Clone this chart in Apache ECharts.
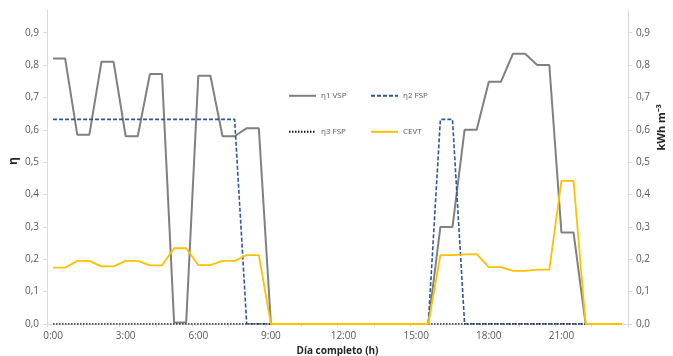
<!DOCTYPE html>
<html>
<head>
<meta charset="utf-8">
<script src="https://cdn.jsdelivr.net/npm/echarts@6/dist/echarts.min.js"></script>
<style>
html,body{margin:0;padding:0;background:#fff;}
#c{width:673px;height:356px;}
</style>
</head>
<body>
<div id="c"></div>
<script>
// Half-hour categories 0:00 .. 23:30
const categories = ["0:00","0:30","1:00","1:30","2:00","2:30","3:00","3:30","4:00","4:30","5:00","5:30",
"6:00","6:30","7:00","7:30","8:00","8:30","9:00","9:30","10:00","10:30","11:00","11:30",
"12:00","12:30","13:00","13:30","14:00","14:30","15:00","15:30","16:00","16:30","17:00","17:30",
"18:00","18:30","19:00","19:30","20:00","20:30","21:00","21:30","22:00","22:30","23:00","23:30"];

const eta1VSP = [0.82,0.82,0.585,0.585,0.81,0.81,0.58,0.58,0.772,0.772,0.005,0.005,
0.767,0.767,0.58,0.58,0.605,0.605,0,0,0,0,0,0,
0,0,0,0,0,0,0,0,0.3,0.3,0.6,0.6,
0.748,0.748,0.835,0.835,0.8,0.8,0.283,0.283,0,0,0,0];

const eta2FSP = [0.632,0.632,0.632,0.632,0.632,0.632,0.632,0.632,0.632,0.632,0.632,0.632,
0.632,0.632,0.632,0.632,0,0,0,0,0,0,0,0,
0,0,0,0,0,0,0,0,0.632,0.632,0,0,
0,0,0,0,0,0,0,0,0,0,0,0];

const eta3FSP = [0,0,0,0,0,0,0,0,0,0,0,0,
0,0,0,0,0,0,0,0,0,0,0,0,
0,0,0,0,0,0,0,0,0,0,0,0,
0,0,0,0,0,0,0,0,0,0,0,0];

const cevt = [0.174,0.174,0.195,0.195,0.178,0.178,0.195,0.195,0.181,0.181,0.234,0.234,
0.182,0.182,0.195,0.195,0.213,0.213,0,0,0,0,0,0,
0,0,0,0,0,0,0,0,0.213,0.213,0.215,0.216,
0.176,0.176,0.164,0.164,0.168,0.168,0.442,0.442,0,0,0,0];

const yTicks = [0,0.1,0.2,0.3,0.4,0.5,0.6,0.7,0.8,0.9];
const seriesNames = ["η1 VSP","η2 FSP","η3 FSP","CEVT"];

const fmt = v => v.toFixed(1).replace('.', ',');
const labelColor = '#595959';
const axisColor = '#d9d9d9';
const font = 'Open Sans';

function yAxis(pos){
  return {
    type:'value', position:pos, min:0, max:0.97,
    axisLine:{show:true, lineStyle:{color:axisColor}},
    axisTick:{show:true, length:4, lineStyle:{color:axisColor}, customValues:yTicks},
    axisLabel:{color:labelColor, fontSize:10, fontFamily:font, margin:8, formatter:fmt, customValues:yTicks},
    splitLine:{show:false}
  };
}

function legendAt(name, left, top){
  return {
    data:[name], left:left, top:top, itemWidth:27, itemHeight:12,
    itemStyle:{opacity:0},
    textStyle:{color:labelColor, fontSize:8, fontFamily:font},
    selectedMode:false
  };
}

const chart = echarts.init(document.getElementById('c'), null, {renderer:'canvas'});
chart.setOption({
  animation:false,
  backgroundColor:'#fff',
  grid:{left:47, right:45, top:10, bottom:32, containLabel:false, outerBoundsMode:'none'},
  legend:[
    legendAt(seriesNames[0], 283, 86),
    legendAt(seriesNames[1], 365, 86),
    legendAt(seriesNames[2], 283, 122),
    legendAt(seriesNames[3], 365, 122)
  ],
  xAxis:{
    type:'category', data:categories, boundaryGap:true,
    name:'Día completo (h)', nameLocation:'middle', nameGap:22,
    nameTextStyle:{color:'#262626', fontSize:10, fontWeight:'bold', fontFamily:font},
    axisLine:{lineStyle:{color:axisColor}},
    axisTick:{show:true, interval:2, length:3, lineStyle:{color:axisColor}},
    axisLabel:{interval:5, color:labelColor, fontSize:10, fontFamily:font, margin:7}
  },
  yAxis:[yAxis('left'), yAxis('right')],
  graphic:[{
    type:'text', left:8, top:157, rotation:Math.PI/2,
    style:{text:'η', fill:'#262626', font:'bold 12px "Open Sans"'}
  },{
    type:'text', left:656, top:104, rotation:Math.PI/2,
    style:{text:'kWh m⁻³', fill:'#262626', font:'bold 11px "Open Sans"'}
  }],
  series:[
    {name:seriesNames[0], type:'line', data:eta1VSP, symbol:'none', yAxisIndex:0,
     lineStyle:{color:'#808080', width:2}, itemStyle:{color:'#808080'}},
    {name:seriesNames[1], type:'line', data:eta2FSP, symbol:'none', yAxisIndex:0,
     lineStyle:{color:'#2f55a0', width:1.6, type:[4,2]}, itemStyle:{color:'#2f55a0'}},
    {name:seriesNames[2], type:'line', data:eta3FSP, symbol:'none', yAxisIndex:0,
     lineStyle:{color:'#111', width:1.5, type:[1.5,1.5]}, itemStyle:{color:'#111'}},
    {name:seriesNames[3], type:'line', data:cevt, symbol:'none', yAxisIndex:1,
     lineStyle:{color:'#ffc000', width:1.8}, itemStyle:{color:'#ffc000'}}
  ]
});
</script>
</body>
</html>
